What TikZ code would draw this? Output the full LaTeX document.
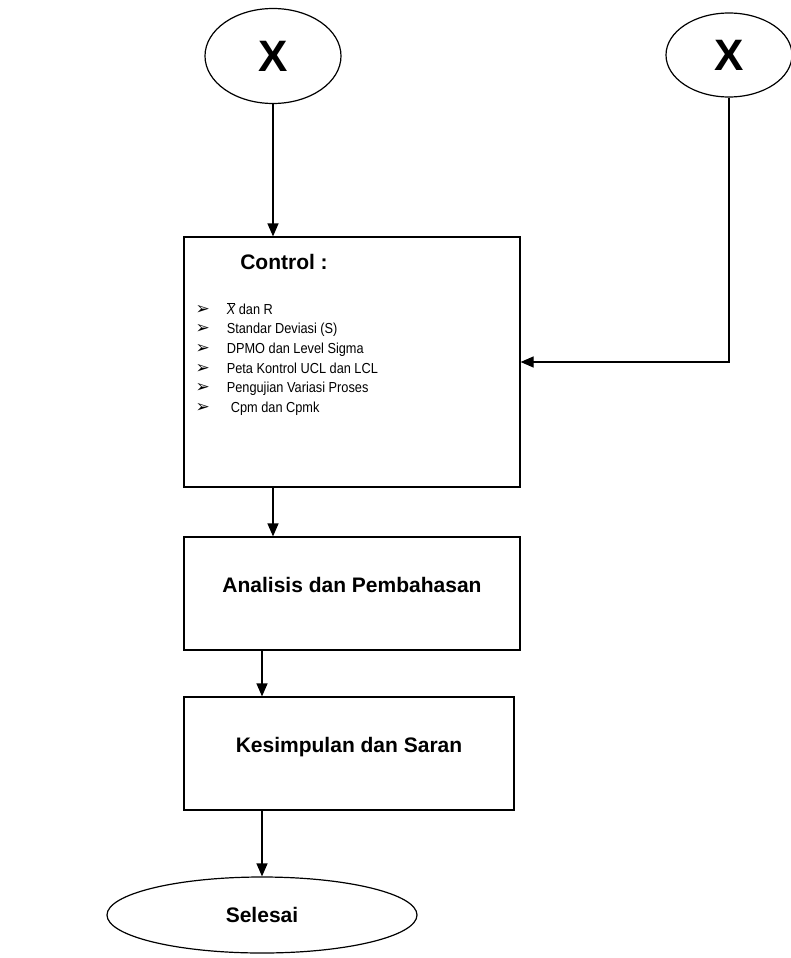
\documentclass[tikz,border=0pt]{standalone}
\usepackage{fontspec}
\setmainfont{Liberation Sans}
\newfontfamily\symfont{DejaVu Sans}
\newfontfamily\narrowfont[FakeStretch=0.88]{Liberation Sans}
\usetikzlibrary{shapes.geometric, arrows.meta}

\begin{document}
\begin{tikzpicture}[x=1pt, y=-1pt, line width=1.2pt,
  >={Triangle[length=13pt,width=11pt]},
  every node/.style={font=\fontsize{13.5}{19.6}\selectfont},
  box/.style={draw, rectangle, inner sep=0pt, text depth=18pt},
  oval/.style={draw, ellipse, inner sep=0pt},
  title/.style={font=\bfseries\fontsize{21}{24}\selectfont},
  bigx/.style={font=\bfseries\fontsize{44}{44}\selectfont},
  items/.style={font=\narrowfont\fontsize{14.5}{19.6}\selectfont}]
\useasboundingbox (0,0) rectangle (790,958);

\node[oval, bigx, minimum width=136pt, minimum height=95pt] (xleft) at (273,56) {X};
\node[oval, bigx, minimum width=126pt, minimum height=84pt] (xright) at (729,55) {X};

\node[draw, rectangle, minimum width=336pt, minimum height=250pt] (ctrl) at (352,362) {};
\node[title] (ctrltitle) at (284,262) {Control :};
\node[items, anchor=north west, align=left, inner sep=0pt] (ctrllist) at (195,300) {%
\begin{tabular}{@{}l@{\hspace{17pt}}l@{}}
{\symfont\fontsize{17}{17}\selectfont ➢} & $\overline{\textit{X}}$ dan R\\
{\symfont\fontsize{17}{17}\selectfont ➢} & Standar Deviasi (S)\\
{\symfont\fontsize{17}{17}\selectfont ➢} & DPMO dan Level Sigma\\
{\symfont\fontsize{17}{17}\selectfont ➢} & Peta Kontrol UCL dan LCL\\
{\symfont\fontsize{17}{17}\selectfont ➢} & Pengujian Variasi Proses\\
{\symfont\fontsize{17}{17}\selectfont ➢} & \hspace{4pt}Cpm dan Cpmk
\end{tabular}};

\node[box, title, minimum width=336pt, minimum height=113pt] (anl) at (352,593.5) {Analisis dan Pembahasan};
\node[box, title, minimum width=330pt, minimum height=113pt] (ksm) at (349,753.5) {Kesimpulan dan Saran};
\node[oval, title, minimum width=310pt, minimum height=76pt] (done) at (262,915) {Selesai};

\draw[->] (xleft.south) -- (xleft.south |- ctrl.north);
\draw[->] (xright.south) |- (ctrl.east);
\draw[->] (xleft.south |- ctrl.south) -- (xleft.south |- anl.north);
\draw[->] (done.north |- anl.south) -- (done.north |- ksm.north);
\draw[->] (done.north |- ksm.south) -- (done.north);
\end{tikzpicture}
\end{document}
